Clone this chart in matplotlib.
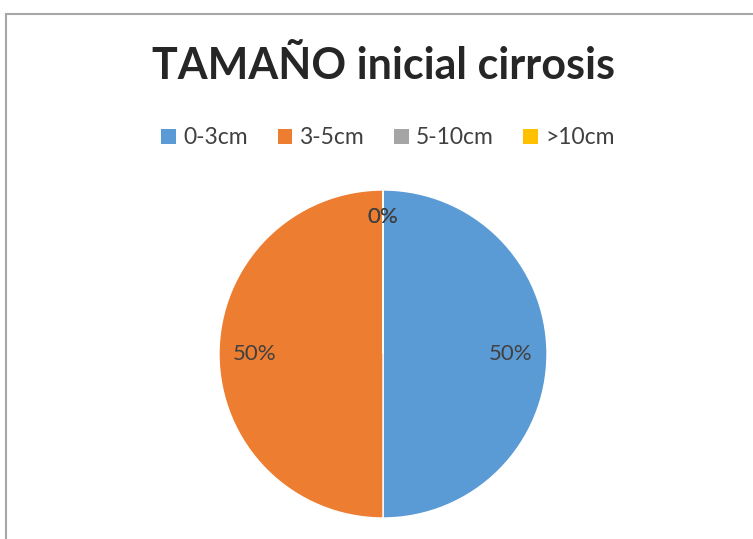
import matplotlib
matplotlib.use("Agg")
import matplotlib.pyplot as plt
from matplotlib.patches import Patch
from matplotlib.lines import Line2D

title = "TAMAÑO inicial cirrosis"
categories = ["0-3cm", "3-5cm", "5-10cm", ">10cm"]
values = [50, 50, 0, 0]
colors = ["#5B9BD5", "#ED7D31", "#A5A5A5", "#FFC000"]

plt.rcParams['font.family'] = ['Lato', 'DejaVu Sans']

W, H = 753, 539
fig = plt.figure(figsize=(W / 100, H / 100), dpi=100)
fig.patch.set_facecolor("white")

# partial chart frame (left & top visible)
fig.add_artist(Line2D([6.5 / W, 6.5 / W], [0, 1 - 14 / H], color="#A6A6A6", lw=1.5, transform=fig.transFigure))
fig.add_artist(Line2D([6.5 / W, 1], [1 - 14 / H, 1 - 14 / H], color="#A6A6A6", lw=1.5, transform=fig.transFigure))

cx, cy, r = 383, 354, 164
ax = fig.add_axes([(cx - r) / W, (H - cy - r) / H, 2 * r / W, 2 * r / H])
wedges, texts, autotexts = ax.pie(
    values, colors=colors, startangle=90, counterclock=False,
    autopct='%1.0f%%', pctdistance=0.78, radius=1.0,
    wedgeprops=dict(edgecolor="white", linewidth=1.0),
    textprops=dict(color="#404040", fontsize=16),
)
for v, t in zip(values, autotexts):
    if v == 0:
        x, y = t.get_position()
        t.set_position((x * 0.835 / 0.78, y * 0.835 / 0.78))
ax.set_xlim(-1, 1)
ax.set_ylim(-1, 1)
ax.set_aspect("equal")
ax.axis("off")

fig.text(383 / W, 1 - 66 / H, title, ha="center", va="center",
         fontsize=31, fontweight="bold", color="#262626")

handles = [Patch(facecolor=c, edgecolor="none") for c in colors]
fig.legend(handles, categories, loc="center", bbox_to_anchor=(388 / W, 1 - 138 / H),
           ncol=4, frameon=False, fontsize=16.5, handlelength=0.65, handleheight=0.65,
           handletextpad=0.3, columnspacing=1.3, labelcolor="#404040")

fig.savefig("out.png", dpi=100, facecolor="white")
